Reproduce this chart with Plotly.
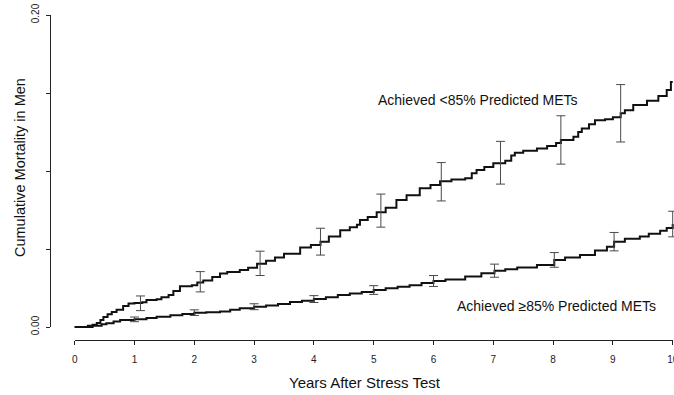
import plotly.graph_objects as go

# ---- data ----
low_x = [0, 0.15, 0.22, 0.3, 0.37, 0.43, 0.48, 0.55, 0.62, 0.7, 0.81, 0.9, 1.0, 1.13, 1.2, 1.37,
         1.45, 1.57, 1.65, 1.76, 1.96, 2.05, 2.15, 2.3, 2.43, 2.55, 2.76, 2.9, 3.05, 3.2, 3.35,
         3.5, 3.77, 3.95, 4.11, 4.25, 4.44, 4.6, 4.72, 4.77, 4.9, 5.05, 5.2, 5.38, 5.55, 5.77,
         5.95, 6.11, 6.3, 6.53, 6.64, 6.72, 6.85, 7.0, 7.2, 7.3, 7.36, 7.5, 7.73, 7.9, 8.05,
         8.13, 8.34, 8.42, 8.48, 8.6, 8.7, 8.87, 9.0, 9.13, 9.2, 9.34, 9.57, 9.76, 9.9, 9.97, 10.0]
low_y = [0, 0, 0.0008, 0.0015, 0.0025, 0.0045, 0.0064, 0.0082, 0.0096, 0.011, 0.0135, 0.015,
         0.0154, 0.0158, 0.0173, 0.0178, 0.019, 0.0205, 0.023, 0.0262, 0.0268, 0.0285, 0.0298,
         0.032, 0.0343, 0.0352, 0.0365, 0.038, 0.0405, 0.0425, 0.0445, 0.047, 0.051, 0.0525,
         0.0547, 0.058, 0.062, 0.064, 0.0655, 0.0686, 0.0705, 0.0735, 0.0765, 0.0814, 0.0845,
         0.0889, 0.091, 0.0935, 0.0945, 0.0953, 0.0985, 0.1006, 0.1025, 0.1049, 0.1065, 0.110,
         0.1117, 0.113, 0.1145, 0.116, 0.118, 0.1199, 0.122, 0.125, 0.1273, 0.130, 0.1325,
         0.1331, 0.1345, 0.137, 0.139, 0.1423, 0.1451, 0.148, 0.152, 0.157, 0.157]

high_x = [0, 0.2, 0.3, 0.45, 0.53, 0.65, 0.76, 1.0, 1.2, 1.37, 1.6, 1.8, 2.0, 2.2, 2.43, 2.6,
          2.76, 3.0, 3.2, 3.4, 3.6, 3.8, 4.0, 4.2, 4.4, 4.6, 4.8, 5.0, 5.2, 5.4, 5.6, 5.8, 6.0,
          6.2, 6.53, 6.8, 7.02, 7.2, 7.4, 7.73, 8.02, 8.2, 8.45, 8.7, 8.9, 9.02, 9.2, 9.45, 9.6,
          9.79, 9.9, 10.0]
high_y = [0, 0, 0.0008, 0.0018, 0.0024, 0.0035, 0.0045, 0.0049, 0.0058, 0.0066, 0.0075, 0.0083,
          0.0092, 0.0095, 0.0100, 0.011, 0.012, 0.013, 0.0138, 0.0148, 0.016, 0.0168, 0.0179,
          0.019, 0.0205, 0.0215, 0.0225, 0.0237, 0.0248, 0.0258, 0.0268, 0.0282, 0.0295, 0.0305,
          0.0323, 0.0345, 0.0361, 0.037, 0.0382, 0.0397, 0.043, 0.0445, 0.0462, 0.049, 0.0515,
          0.0547, 0.0565, 0.058, 0.0598, 0.0617, 0.0635, 0.066]

low_ci_x = [1.1, 2.1, 3.1, 4.11, 5.12, 6.13, 7.12, 8.13, 9.13]
low_ci_y = [0.0152, 0.029, 0.0408, 0.0547, 0.0746, 0.0931, 0.1053, 0.1199, 0.137]
low_ci_e = [0.0047, 0.0065, 0.0078, 0.0086, 0.0106, 0.0123, 0.0137, 0.0155, 0.0184]

high_ci_x = [1.0, 2.0, 3.0, 4.0, 5.0, 6.0, 7.02, 8.02, 9.02, 10.0]
high_ci_y = [0.0049, 0.0092, 0.013, 0.0179, 0.0237, 0.0295, 0.0361, 0.043, 0.0547, 0.066]
high_ci_e = [0.0015, 0.0018, 0.0019, 0.0022, 0.0028, 0.0035, 0.0042, 0.0047, 0.0059, 0.0082]

x_ticks = list(range(0, 11))
y_tickvals = [0, 0.05, 0.10, 0.15, 0.20]
y_ticktext = ["0.00", "", "", "", "0.20"]

label_low = "Achieved <85% Predicted METs"
label_high = "Achieved \u226585% Predicted METs"

# ---- layout geometry (pixels) ----
W, H = 674, 395
def px_x(p):
    return p / W
def px_y(p):
    return 1 - p / H

X0_PX, X10_PX = 74.7, 672.7   # where 0 and 10 years sit
Y0_PX, Y20_PX = 327.0, 15.0   # where 0.00 and 0.20 sit
ppx = (X10_PX - X0_PX) / 10.0
ppy = (Y0_PX - Y20_PX) / 0.20

DX0, DX1 = 58.0, 674.0
DY0, DY1 = 345.0, 4.0
data_xrange = [(DX0 - X0_PX) / ppx, (DX1 - X0_PX) / ppx]
data_yrange = [(Y0_PX - DY0) / ppy, (Y0_PX - DY1) / ppy]

font = "Liberation Sans, Arial, sans-serif"
line_col = "#111111"
err_col = "#4a4a4a"

fig = go.Figure()
fig.add_trace(go.Scatter(x=low_x, y=low_y, mode="lines", line=dict(color=line_col, width=2, shape="hv"),
                         showlegend=False, hoverinfo="skip"))
fig.add_trace(go.Scatter(x=high_x, y=high_y, mode="lines", line=dict(color=line_col, width=2, shape="hv"),
                         showlegend=False, hoverinfo="skip"))
fig.add_trace(go.Scatter(x=low_ci_x, y=low_ci_y, mode="markers",
                         marker=dict(size=2, color="rgba(0,0,0,0)"),
                         error_y=dict(type="data", array=low_ci_e, visible=True, color=err_col,
                                      thickness=1, width=4.5),
                         showlegend=False, hoverinfo="skip"))
fig.add_trace(go.Scatter(x=high_ci_x, y=high_ci_y, mode="markers",
                         marker=dict(size=2, color="rgba(0,0,0,0)"),
                         error_y=dict(type="data", array=high_ci_e, visible=True, color=err_col,
                                      thickness=1, width=4.5),
                         showlegend=False, hoverinfo="skip"))
# empty trace to carry the visible (detached) axes
fig.add_trace(go.Scatter(x=[], y=[], xaxis="x2", yaxis="y2", showlegend=False, hoverinfo="skip"))

fig.update_layout(
    width=W, height=H,
    margin=dict(l=0, r=0, t=0, b=0, autoexpand=False),
    paper_bgcolor="white", plot_bgcolor="rgba(0,0,0,0)",
    font=dict(family=font, color="#111111"),
    xaxis=dict(domain=[px_x(DX0), px_x(DX1)], range=data_xrange, visible=False, fixedrange=True,
               automargin=False),
    yaxis=dict(domain=[px_y(DY0), px_y(DY1)], range=data_yrange, visible=False, fixedrange=True,
               automargin=False),
    xaxis2=dict(domain=[px_x(X0_PX), px_x(X10_PX)], range=[0, 10], anchor="free",
                position=px_y(340), tickvals=x_ticks, ticktext=[str(t) for t in x_ticks],
                showline=True, linecolor="#222222", linewidth=1, ticks="outside", ticklen=4,
                tickcolor="#222222", showgrid=False, zeroline=False, ticklabelstandoff=6,
                ticklabeloverflow="allow", automargin=False,
                tickfont=dict(size=10, family=font, color="#222222"), fixedrange=True),
    yaxis2=dict(domain=[px_y(Y0_PX), px_y(Y20_PX)], range=[0, 0.20], anchor="free",
                position=px_x(50), tickvals=y_tickvals, ticktext=y_ticktext, tickangle=-90,
                showline=True, linecolor="#222222", linewidth=1, ticks="outside", ticklen=4,
                tickcolor="#222222", showgrid=False, zeroline=False, ticklabelstandoff=3,
                ticklabeloverflow="allow", automargin=False,
                tickfont=dict(size=10, family=font, color="#222222"), fixedrange=True),
    annotations=[
        dict(text="Years After Stress Test", xref="paper", yref="paper",
             x=px_x(365), y=px_y(382.5), xanchor="center", yanchor="middle",
             showarrow=False, font=dict(size=15, family=font)),
        dict(text="Cumulative Mortality in Men", xref="paper", yref="paper", textangle=-90,
             x=px_x(19.5), y=px_y(167.5), xanchor="center", yanchor="middle",
             showarrow=False, font=dict(size=14.5, family=font)),
        dict(text=label_low, xref="x", yref="y", x=6.745, y=0.1458, xanchor="center",
             yanchor="middle", showarrow=False, font=dict(size=14, family=font)),
        dict(text=label_high, xref="x", yref="y", x=8.05, y=0.0135, xanchor="center",
             yanchor="middle", showarrow=False, font=dict(size=14, family=font)),
    ],
)

fig.write_html("out.html")
